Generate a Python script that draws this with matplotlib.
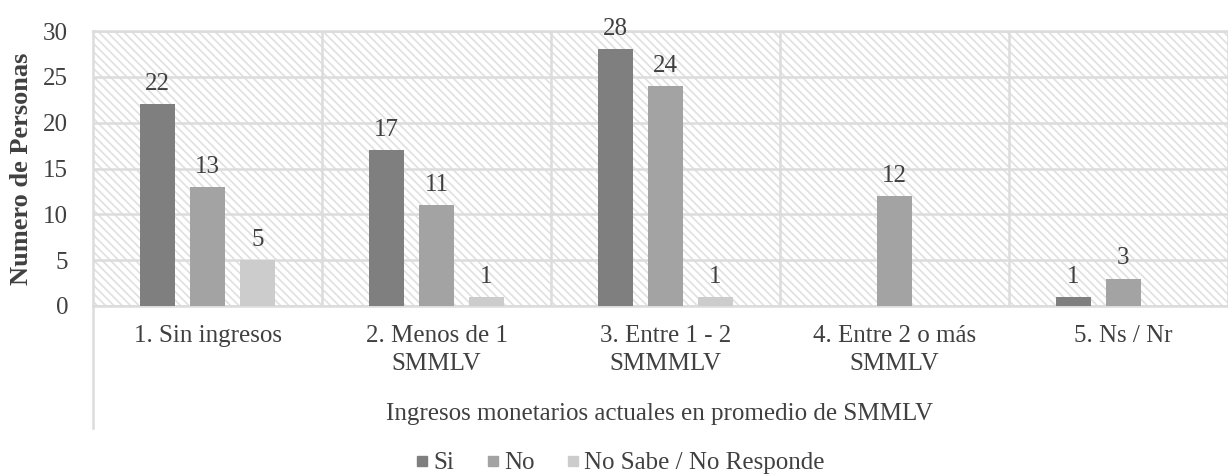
import matplotlib
matplotlib.use("Agg")
import matplotlib.pyplot as plt
from matplotlib.patches import Rectangle
from matplotlib.lines import Line2D
import numpy as np

plt.rcParams["font.family"] = ["Liberation Serif", "DejaVu Serif"]
plt.rcParams["hatch.linewidth"] = 1.2

categories = ["1. Sin ingresos", "2. Menos de 1\nSMMLV", "3. Entre 1 - 2\nSMMMLV",
              "4. Entre 2 o más\nSMMLV", "5. Ns / Nr"]
series_names = ["Si", "No", "No Sabe / No Responde"]
si_vals = [22, 17, 28, 0, 1]
no_vals = [13, 11, 24, 12, 3]
nsnr_vals = [5, 1, 1, 0, 0]
colors = ["#7f7f7f", "#a3a3a3", "#cccccc"]

fig = plt.figure(figsize=(12.28, 4.76), dpi=100)
ax = fig.add_axes([93 / 1228, 1 - 306 / 476, 1135 / 1228, 275 / 476])

# hatched background
bg = Rectangle((0, 0), 1, 1, transform=ax.transAxes, facecolor="white",
               edgecolor="#e0e0e0", hatch="\\\\\\\\", linewidth=0, zorder=0)
ax.add_patch(bg)

x = np.arange(len(categories))
offsets = [-0.218, 0.0, 0.218]
width = 0.153
for vals, off, col in zip([si_vals, no_vals, nsnr_vals], offsets, colors):
    ax.bar(x + off, vals, width=width, color=col, zorder=3)
    for xi, v in zip(x + off, vals):
        if v > 0:
            ax.text(xi, v + 1.0, str(v), ha="center", va="bottom",
                    fontsize=18, color="#404040", zorder=4)

ax.set_ylim(0, 30)
ax.set_xlim(-0.5, -0.5 + 1135 / 229)
ax.set_yticks(range(0, 31, 5))
ax.yaxis.grid(True, color="#dcdcdc", linewidth=1.8, zorder=1)
for b in np.arange(0.5, 4.5, 1.0):
    ax.axvline(b, color="#dcdcdc", linewidth=1.8, zorder=1)
ax.set_axisbelow(True)

ax.set_xticks(x)
ax.set_xticklabels(categories, fontsize=18, color="#404040", linespacing=1.35)
ax.tick_params(axis="x", length=0, pad=14)
ax.tick_params(axis="y", length=0, pad=18, labelsize=18, labelcolor="#404040")
for s in ax.spines.values():
    s.set_color("#dcdcdc")
    s.set_linewidth(1.8)

ax.set_ylabel("Numero de Personas", fontsize=19, fontweight="bold",
              color="#404040", labelpad=7)

# left divider line extending below the axis
fig.add_artist(Line2D([93 / 1228, 93 / 1228], [1 - 306 / 476, 1 - 428 / 476],
                      color="#dcdcdc", linewidth=1.8))

fig.text(660 / 1228, 1 - 420 / 476, "Ingresos monetarios actuales en promedio de SMMLV",
         ha="center", va="baseline", fontsize=18, color="#404040")

handles = [Line2D([], [], marker="s", linestyle="none", markersize=7,
                  markerfacecolor=c, markeredgecolor=c) for c in colors]
fig.legend(handles, series_names, loc="center", bbox_to_anchor=(0.505, 1 - 463 / 476),
           ncol=3, frameon=False, fontsize=18, handlelength=0.5, handletextpad=0.2,
           columnspacing=1.3, labelcolor="#404040")

fig.savefig("out.png", dpi=100)
